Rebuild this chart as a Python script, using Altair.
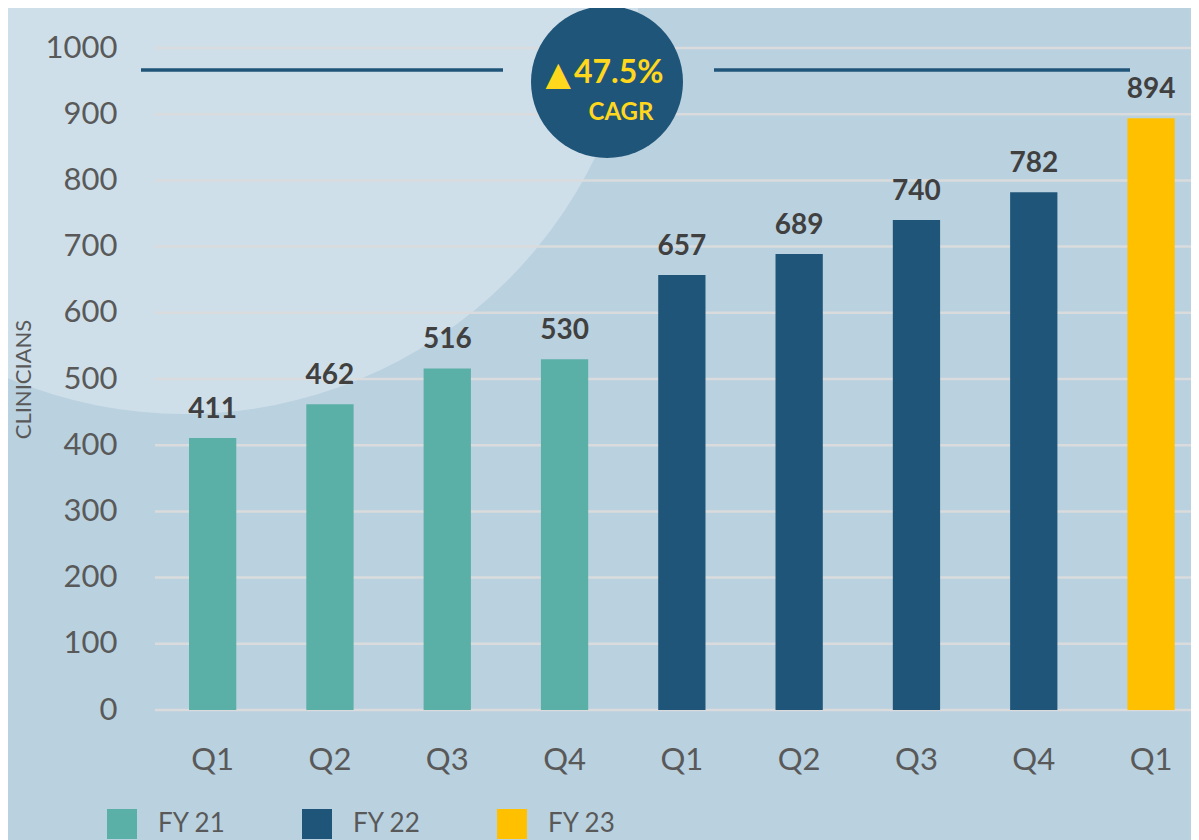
import altair as alt
import pandas as pd

# ---- data ----
quarters = ["Q1", "Q2", "Q3", "Q4", "Q1", "Q2", "Q3", "Q4", "Q1"]
fiscal_years = ["FY 21", "FY 21", "FY 21", "FY 21", "FY 22", "FY 22", "FY 22", "FY 22", "FY 23"]
clinicians = [411, 462, 516, 530, 657, 689, 740, 782, 894]
y_ticks = [0, 100, 200, 300, 400, 500, 600, 700, 800, 900, 1000]
fy_names = ["FY 21", "FY 22", "FY 23"]
fy_colors = ["#5aafa6", "#1f5579", "#ffc000"]
cagr_value = "47.5%"
cagr_label = "CAGR"
axis_title = "CLINICIANS"

slots = [f"{fy}|{q}" for fy, q in zip(fiscal_years, quarters)]
df = pd.DataFrame({"slot": slots, "quarter": quarters, "fy": fiscal_years, "value": clinicians})
grid_df = pd.DataFrame({"value": y_ticks})
one = pd.DataFrame({"k": [0]})

FONT = "Lato"
TXT = "#595959"
YELLOW = "#ffd71c"
NAVY = "#1f5579"

W, H = 1036, 662

y_scale = alt.Scale(domain=[0, 1000], nice=False)
y_axis = alt.Axis(
    values=y_ticks, format="d", grid=False, domain=False, ticks=False, zindex=1,
    labelFontSize=31, labelColor=TXT, labelFont=FONT, labelPadding=38,
    title=axis_title, titleFont=FONT, titleFontSize=22, titleFontWeight="normal",
    titleColor=TXT, titleX=-125, titleY=331, titleAlign="center",
    titleBaseline="alphabetic", titleAngle=270,
)
x_enc = alt.X(
    "slot:N", sort=slots,
    scale=alt.Scale(paddingInner=0.597, paddingOuter=0.2145, align=0.676),
    axis=alt.Axis(
        title=None, labelExpr="split(datum.value, '|')[1]", labelAngle=0,
        labelFontSize=31, labelColor=TXT, labelFont=FONT, labelPadding=35,
        ticks=False, domain=False, grid=False, zindex=1,
    ),
)

bg_circle = alt.Chart(one).mark_point(
    shape="circle", filled=True, size=(2 * 456) ** 2, color="#cfdfe9", opacity=1
).encode(x=alt.value(30), y=alt.value(-90))

grid = alt.Chart(grid_df).mark_rule(color="#d9dbdd", strokeWidth=2.5).encode(
    y=alt.Y("value:Q", scale=y_scale, axis=y_axis)
)

bars = alt.Chart(df).mark_bar().encode(
    x=x_enc,
    y=alt.Y("value:Q", scale=y_scale, axis=y_axis),
    color=alt.Color(
        "fy:N",
        scale=alt.Scale(domain=fy_names, range=fy_colors),
        legend=alt.Legend(
            orient="none", legendX=-48, legendY=761, direction="horizontal",
            title=None, symbolType="square", symbolSize=900, symbolStrokeWidth=0,
            symbolOpacity=1, labelFontSize=26, labelColor=TXT, labelFont=FONT,
            labelOffset=21, columnPadding=76, padding=0,
        ),
    ),
)

labels = alt.Chart(df).mark_text(
    dy=-20, baseline="alphabetic", fontSize=28, fontWeight="bold",
    color="#404040", font=FONT,
).encode(x=x_enc, y=alt.Y("value:Q", scale=y_scale, axis=y_axis), text="value:Q")

line_left = alt.Chart(one).mark_rule(color=NAVY, strokeWidth=3.5).encode(
    x=alt.value(-14), x2=alt.value(348), y=alt.value(22)
)
line_right = alt.Chart(one).mark_rule(color=NAVY, strokeWidth=3.5).encode(
    x=alt.value(559), x2=alt.value(975), y=alt.value(22)
)
badge = alt.Chart(one).mark_point(
    shape="circle", filled=True, size=152 ** 2, color=NAVY, opacity=1
).encode(x=alt.value(452), y=alt.value(34))

tri = alt.Chart(one).mark_text(
    text="▲", font="DejaVu Sans", fontSize=33, color=YELLOW,
    align="right", baseline="alphabetic",
).encode(x=alt.value(416), y=alt.value(37))
pct = alt.Chart(one).mark_text(
    text=cagr_value, font=FONT, fontSize=32, fontWeight="bold", color=YELLOW,
    align="left", baseline="alphabetic",
).encode(x=alt.value(419), y=alt.value(35))
cagr = alt.Chart(one).mark_text(
    text=cagr_label, font=FONT, fontSize=24, fontWeight="bold", color=YELLOW,
    align="center", baseline="alphabetic",
).encode(x=alt.value(466), y=alt.value(72))

chart = alt.layer(
    bg_circle, grid, bars, labels, line_left, line_right, badge, tri, pct, cagr
).properties(
    width=W, height=H,
    autosize=alt.AutoSizeParams(type="none"),
    padding={"left": 147, "top": 40, "right": 0, "bottom": 134},
    background="#bad1df",
).configure(font=FONT).configure_view(stroke=None)

chart.save("out.html", embed_options={"renderer": "svg", "actions": False})
